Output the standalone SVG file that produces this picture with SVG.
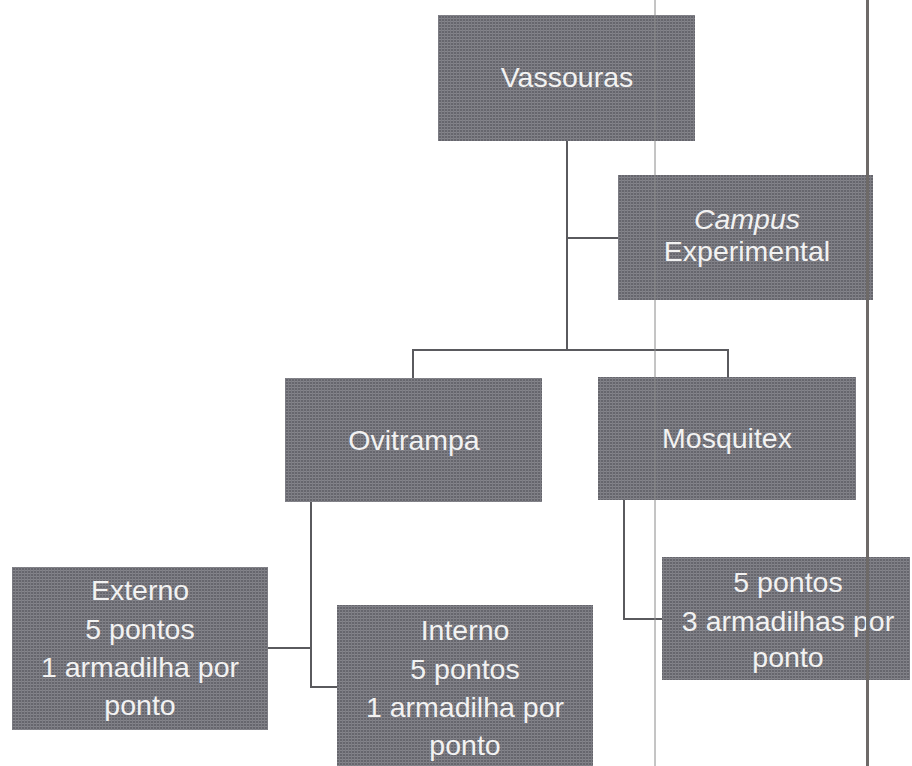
<svg xmlns="http://www.w3.org/2000/svg" width="912" height="766" viewBox="0 0 912 766">
  <defs>
    <pattern id="dots" width="3" height="3" patternUnits="userSpaceOnUse">
      <rect width="3" height="3" fill="#66666d"/>
      <rect width="3" height="1" fill="#85858b"/>
      <rect width="1" height="3" fill="#7c7c83"/>
    </pattern>
  </defs>
  <style>
    .box { fill: url(#dots); }
    .lbl { font-family: "Liberation Sans", Arial, sans-serif; font-size: 28.5px; fill: #f2f2f2; text-anchor: middle; }
    .conn { fill: none; stroke: #5a5a5e; stroke-width: 2; }
  </style>
  <rect width="912" height="766" fill="#ffffff"/>

  <g id="connectors">
    <path class="conn" d="M567,141 V350"/>
    <path class="conn" d="M567,238 H618"/>
    <path class="conn" d="M413,378 V350 H728 V377"/>
    <path class="conn" d="M311,502 V687 H337"/>
    <path class="conn" d="M268,648 H311"/>
    <path class="conn" d="M624,500 V619 H662"/>
  </g>

  <g id="vassouras">
    <rect class="box" x="438" y="15" width="257" height="126"/>
    <text class="lbl" x="567" y="87">Vassouras</text>
  </g>

  <g id="campus">
    <rect class="box" x="618" y="175" width="255" height="125"/>
    <text class="lbl" x="747" y="229"><tspan font-style="italic">Campus</tspan></text>
    <text class="lbl" x="747" y="261">Experimental</text>
  </g>

  <g id="ovitrampa">
    <rect class="box" x="285" y="378" width="257" height="124"/>
    <text class="lbl" x="414" y="450">Ovitrampa</text>
  </g>

  <g id="mosquitex">
    <rect class="box" x="598" y="377" width="258" height="123"/>
    <text class="lbl" x="727" y="448">Mosquitex</text>
  </g>

  <g id="externo">
    <rect class="box" x="12" y="567" width="256" height="163"/>
    <text class="lbl" x="140" y="600">Externo</text>
    <text class="lbl" x="140" y="639">5 pontos</text>
    <text class="lbl" x="140" y="677">1 armadilha por</text>
    <text class="lbl" x="140" y="715">ponto</text>
  </g>

  <g id="interno">
    <rect class="box" x="337" y="605" width="256" height="161"/>
    <text class="lbl" x="465" y="640">Interno</text>
    <text class="lbl" x="465" y="679">5 pontos</text>
    <text class="lbl" x="465" y="717">1 armadilha por</text>
    <text class="lbl" x="465" y="755">ponto</text>
  </g>

  <g id="mosquitex-pontos">
    <rect class="box" x="662" y="557" width="248" height="123"/>
    <text class="lbl" x="788" y="592">5 pontos</text>
    <text class="lbl" x="788" y="631">3 armadilhas por</text>
    <text class="lbl" x="788" y="667">ponto</text>
  </g>

  <line x1="655" y1="0" x2="655" y2="766" stroke="#8a8a8a" stroke-width="1"/>
  <line x1="867.5" y1="0" x2="867.5" y2="766" stroke="#6e6a68" stroke-width="3"/>
</svg>
